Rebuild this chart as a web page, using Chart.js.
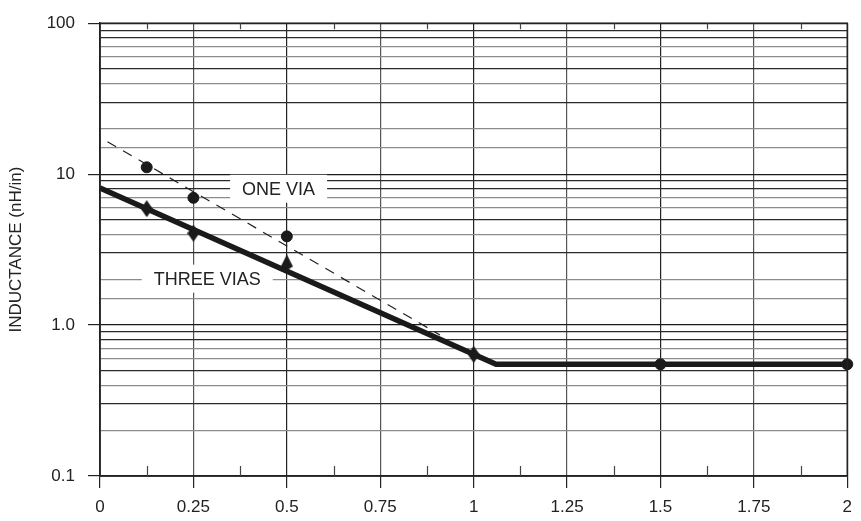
<!DOCTYPE html>
<html>
<head>
<meta charset="utf-8">
<script src="https://cdn.jsdelivr.net/npm/chart.js@4.4.1/dist/chart.umd.min.js"></script>
<style>
  html, body { margin: 0; padding: 0; background: #fff; }
  #wrap { width: 861px; height: 521px; }
</style>
</head>
<body>
<div id="wrap"><canvas id="chart" width="861" height="521"></canvas></div>
<script>
  // values
  const xTicks = [0, 0.25, 0.5, 0.75, 1, 1.25, 1.5, 1.75, 2];
  const xMinorTicks = [0.125, 0.375, 0.625, 0.875, 1.125, 1.375, 1.625, 1.875];
  const yTickLabels = { '0.1': '0.1', '1': '1.0', '10': '10', '100': '100' };

  // thick fitted line (three vias)
  const fitX = [0, 1.06, 2];
  const fitY = [8.1, 0.55, 0.55];

  // dashed fitted line (one via)
  const dashX = [0.02, 0.91];
  const dashY = [16.4, 0.86];

  // measured points
  const oneViaX = [0.125, 0.25, 0.5, 1.5, 2];
  const oneViaY = [11.1, 6.97, 3.87, 0.55, 0.55];
  const threeViasX = [0.125, 0.25, 0.5, 1.0];
  const threeViasY = [5.9, 4.06, 2.6, 0.64];
  const threeViasMarker = ['diamond', 'diamond', 'triangle', 'diamond'];

  // text labels inside the plot
  const noteText = ['ONE VIA', 'THREE VIAS'];
  const noteX = [0.478, 0.287];
  const noteY = [8.0, 2.03];

  const FONT = '"Liberation Sans", Arial, Helvetica, sans-serif';

  function toPoints(xs, ys) {
    return xs.map((x, i) => ({ x: x, y: ys[i] }));
  }

  // tall diamond marker drawn on a small canvas
  function makeDiamond() {
    const c = document.createElement('canvas');
    c.width = 12; c.height = 17;
    const g = c.getContext('2d');
    g.fillStyle = '#1a1a1a';
    g.beginPath();
    g.moveTo(6, 0); g.lineTo(12, 8.5); g.lineTo(6, 17); g.lineTo(0, 8.5);
    g.closePath();
    g.fill();
    return c;
  }
  function makeTriangle() {
    const c = document.createElement('canvas');
    c.width = 12; c.height = 16;
    const g = c.getContext('2d');
    g.fillStyle = '#1a1a1a';
    g.beginPath();
    g.moveTo(6, 0); g.lineTo(12, 12); g.lineTo(6, 16); g.lineTo(0, 12);
    g.closePath();
    g.fill();
    return c;
  }
  const markers = { diamond: makeDiamond(), triangle: makeTriangle() };

  function isDecade(v) {
    const l = Math.log10(v);
    return Math.abs(l - Math.round(l)) < 1e-6;
  }
  function minorDigit(v) {
    const e = Math.floor(Math.log10(v) + 1e-9);
    return Math.round(v / Math.pow(10, e));
  }
  // which minor grid lines look light grey in the picture
  const greyDigits = [2, 4, 6, 7];

  const framePlugin = {
    id: 'frame',
    beforeDatasetsDraw(chart) {
      const ctx = chart.ctx;
      const xs = chart.scales.x, ys = chart.scales.y;
      ctx.save();
      ctx.font = '18px ' + FONT;
      ctx.textAlign = 'center';
      ctx.textBaseline = 'middle';
      noteText.forEach((t, i) => {
        const px = xs.getPixelForValue(noteX[i]);
        const py = ys.getPixelForValue(noteY[i]);
        const w = ctx.measureText(t).width;
        ctx.fillStyle = '#fff';
        ctx.fillRect(px - w / 2 - 12, py - 14, w + 24, 28);
        ctx.fillStyle = '#222';
        ctx.fillText(t, px, py + 1);
      });
      ctx.restore();
    },
    afterDraw(chart) {
      const ctx = chart.ctx;
      const a = chart.chartArea;
      const xs = chart.scales.x;
      ctx.save();
      ctx.strokeStyle = '#222';
      ctx.lineWidth = 1.5;
      ctx.strokeRect(a.left, a.top, a.right - a.left, a.bottom - a.top);
      ctx.lineWidth = 1.2;
      ctx.strokeStyle = '#444';
      xMinorTicks.forEach(v => {
        const px = Math.round(xs.getPixelForValue(v)) + 0.5;
        ctx.beginPath();
        ctx.moveTo(px, a.bottom); ctx.lineTo(px, a.bottom - 10);
        ctx.moveTo(px, a.top); ctx.lineTo(px, a.top + 6);
        ctx.stroke();
      });
      ctx.restore();
    }
  };

  new Chart(document.getElementById('chart'), {
    type: 'scatter',
    data: {
      datasets: [
        {
          label: 'fit three vias',
          data: toPoints(fitX, fitY),
          showLine: true,
          borderColor: '#1a1a1a',
          borderWidth: 5.5,
          pointRadius: 0,
          borderJoinStyle: 'miter',
          clip: false
        },
        {
          label: 'fit one via',
          data: toPoints(dashX, dashY),
          showLine: true,
          borderColor: '#222',
          borderWidth: 1.2,
          borderDash: [10, 8],
          pointRadius: 0
        },
        {
          label: 'ONE VIA',
          data: toPoints(oneViaX, oneViaY),
          showLine: false,
          pointStyle: 'circle',
          pointRadius: 5.5,
          backgroundColor: '#1a1a1a',
          borderColor: '#1a1a1a',
          clip: false
        },
        {
          label: 'THREE VIAS',
          data: toPoints(threeViasX, threeViasY),
          showLine: false,
          pointStyle: threeViasMarker.map(m => markers[m]),
          clip: false
        }
      ]
    },
    options: {
      responsive: false,
      animation: false,
      layout: { padding: { left: 0, right: 8, top: 17, bottom: 0 } },
      plugins: {
        legend: { display: false },
        tooltip: { enabled: false }
      },
      scales: {
        x: {
          type: 'linear',
          min: 0,
          max: 2,
          afterBuildTicks: scale => {
            scale.ticks = xTicks.map(v => ({ value: v }));
          },
          afterFit: scale => { scale.height = 45; },
          grid: {
            color: ctx => (ctx.index % 2 === 0 ? '#222' : '#555'),
            lineWidth: 1.2,
            tickLength: 12,
            tickColor: '#222',
            tickWidth: 1.2
          },
          border: { color: '#222', width: 1.5 },
          ticks: {
            font: { family: FONT, size: 17 },
            color: '#222',
            padding: 9,
            maxRotation: 0,
            autoSkip: false,
            callback: v => String(v)
          }
        },
        y: {
          type: 'logarithmic',
          min: 0.1,
          max: 100,
          afterFit: scale => { scale.width = 100; },
          title: {
            display: true,
            text: 'INDUCTANCE (nH/in)',
            font: { family: FONT, size: 17 },
            color: '#222',
            padding: { top: 6, bottom: 0 }
          },
          grid: {
            color: ctx => {
              const v = ctx.tick && ctx.tick.value;
              if (!v || isDecade(v)) return '#1a1a1a';
              return greyDigits.includes(minorDigit(v)) ? '#8c8c8c' : '#2a2a2a';
            },
            lineWidth: 1.2,
            tickLength: 12,
            tickColor: ctx => {
              const v = ctx.tick && ctx.tick.value;
              return v && isDecade(v) ? '#222' : 'rgba(0,0,0,0)';
            },
            tickWidth: 1.2
          },
          border: { color: '#222', width: 1.5 },
          ticks: {
            font: { family: FONT, size: 17 },
            color: '#222',
            padding: 13,
            autoSkip: false,
            callback: v => {
              const key = String(Math.round(v * 1000) / 1000);
              return yTickLabels[key] !== undefined && isDecade(v) ? yTickLabels[key] : '';
            }
          }
        }
      }
    },
    plugins: [framePlugin]
  });
</script>
</body>
</html>
